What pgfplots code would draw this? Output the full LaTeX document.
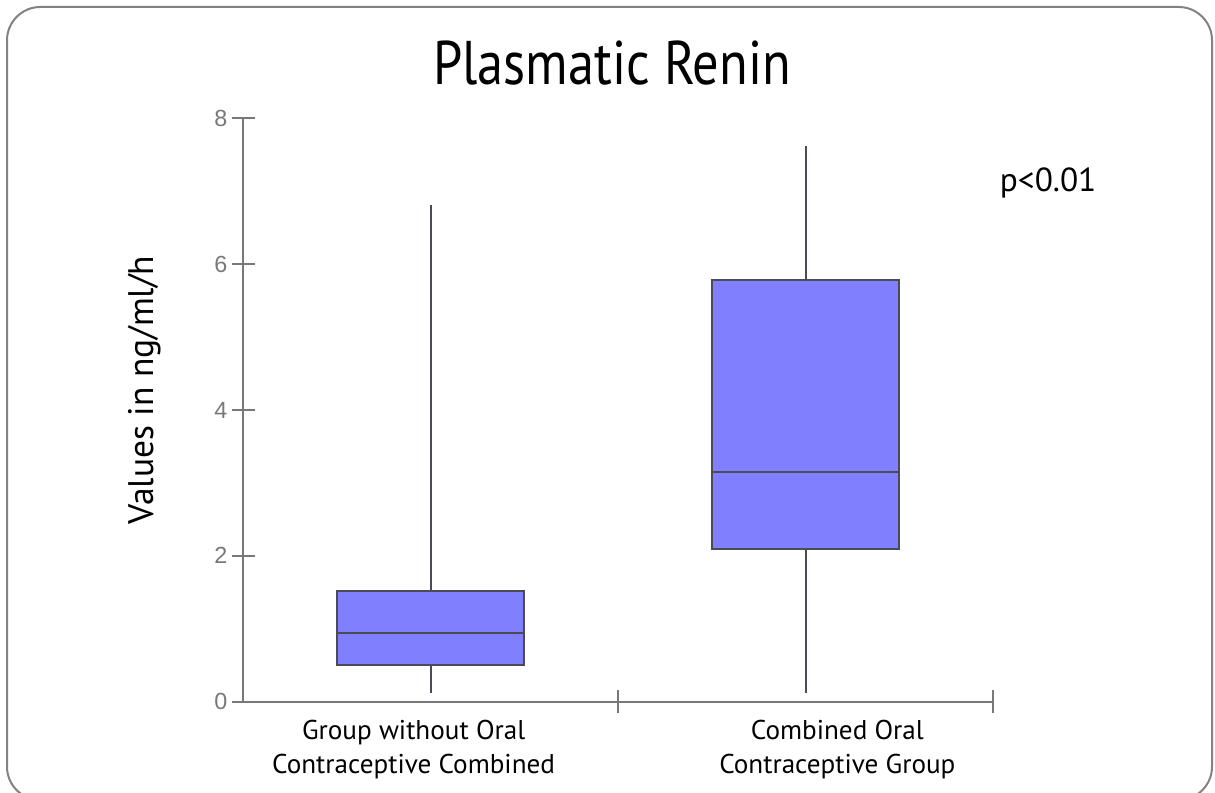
\documentclass[border=0pt]{standalone}
\usepackage{pgfplots}
\pgfplotsset{compat=1.18}
\usepgfplotslibrary{statistics}
\usepackage{fontspec}
\setmainfont{PT Sans}
\newfontfamily\arialf{Liberation Sans}
\definecolor{boxfill}{RGB}{128,128,255}
\definecolor{boxline}{RGB}{75,75,85}
\definecolor{axgray}{RGB}{120,120,120}
\definecolor{tickgray}{RGB}{120,120,120}
\definecolor{framegray}{RGB}{130,130,130}
\begin{document}
\begin{tikzpicture}[x=0.6pt,y=0.6pt]
\path[use as bounding box] (0,0) rectangle (1215,792);
\begin{scope}
\clip (0,0) rectangle (1215,792);
\draw[framegray, line width=1.2pt, rounded corners=20pt] (7,-8) rectangle (1212,785);
\end{scope}
\begin{axis}[
  at={(145.8pt,54.2pt)}, anchor=origin,
  scale only axis, width=450pt, height=350pt,
  xmin=0, xmax=2, ymin=0, ymax=8,
  axis x line=bottom, axis y line=left,
  axis line style={axgray, line width=1.3pt, -},
  boxplot/draw direction=y,
  ytick={0,2,4,6,8},
  xtick={1,2},
  xticklabels={},
  extra x ticks={0.455,1.585},
  extra x tick labels={{Group without Oral\\Contraceptive Combined},{Combined Oral\\Contraceptive Group}},
  extra x tick style={major tick length=0pt, tick style={draw=none},
    xticklabel style={align=center, font=\fontsize{16.3}{20.5}\selectfont, yshift=-7.5pt}},
  tick align=center,
  tick style={axgray, line width=1.3pt},
  major tick length=13.8pt,
  yticklabel style={font=\arialf\fontsize{14}{14}\selectfont, text=tickgray, xshift=1pt},
  /pgf/number format/assume math mode=true,
  clip=false,
]
\addplot[boxplot prepared={median=0.94, upper quartile=1.52, lower quartile=0.50, upper whisker=6.81, lower whisker=0.115, draw position=0.5, box extend=0.5, whisker extend=0}, fill=boxfill, draw=boxline, line width=1.2pt] coordinates {};
\addplot[boxplot prepared={median=3.15, upper quartile=5.78, lower quartile=2.10, upper whisker=7.62, lower whisker=0.115, draw position=1.5, box extend=0.5, whisker extend=0}, fill=boxfill, draw=boxline, line width=1.2pt] coordinates {};
\end{axis}
\node[font=\fontsize{37}{37}\selectfont, anchor=base, xscale=0.85] at (612,707) {Plasmatic Renin};
\node[font=\fontsize{21.3}{21.3}\selectfont, rotate=90, anchor=center] at (145,402) {Values in ng/ml/h};
\node[font=\fontsize{20}{20}\selectfont, anchor=base west] at (994,600) {p<0.01};
\end{tikzpicture}
\end{document}
